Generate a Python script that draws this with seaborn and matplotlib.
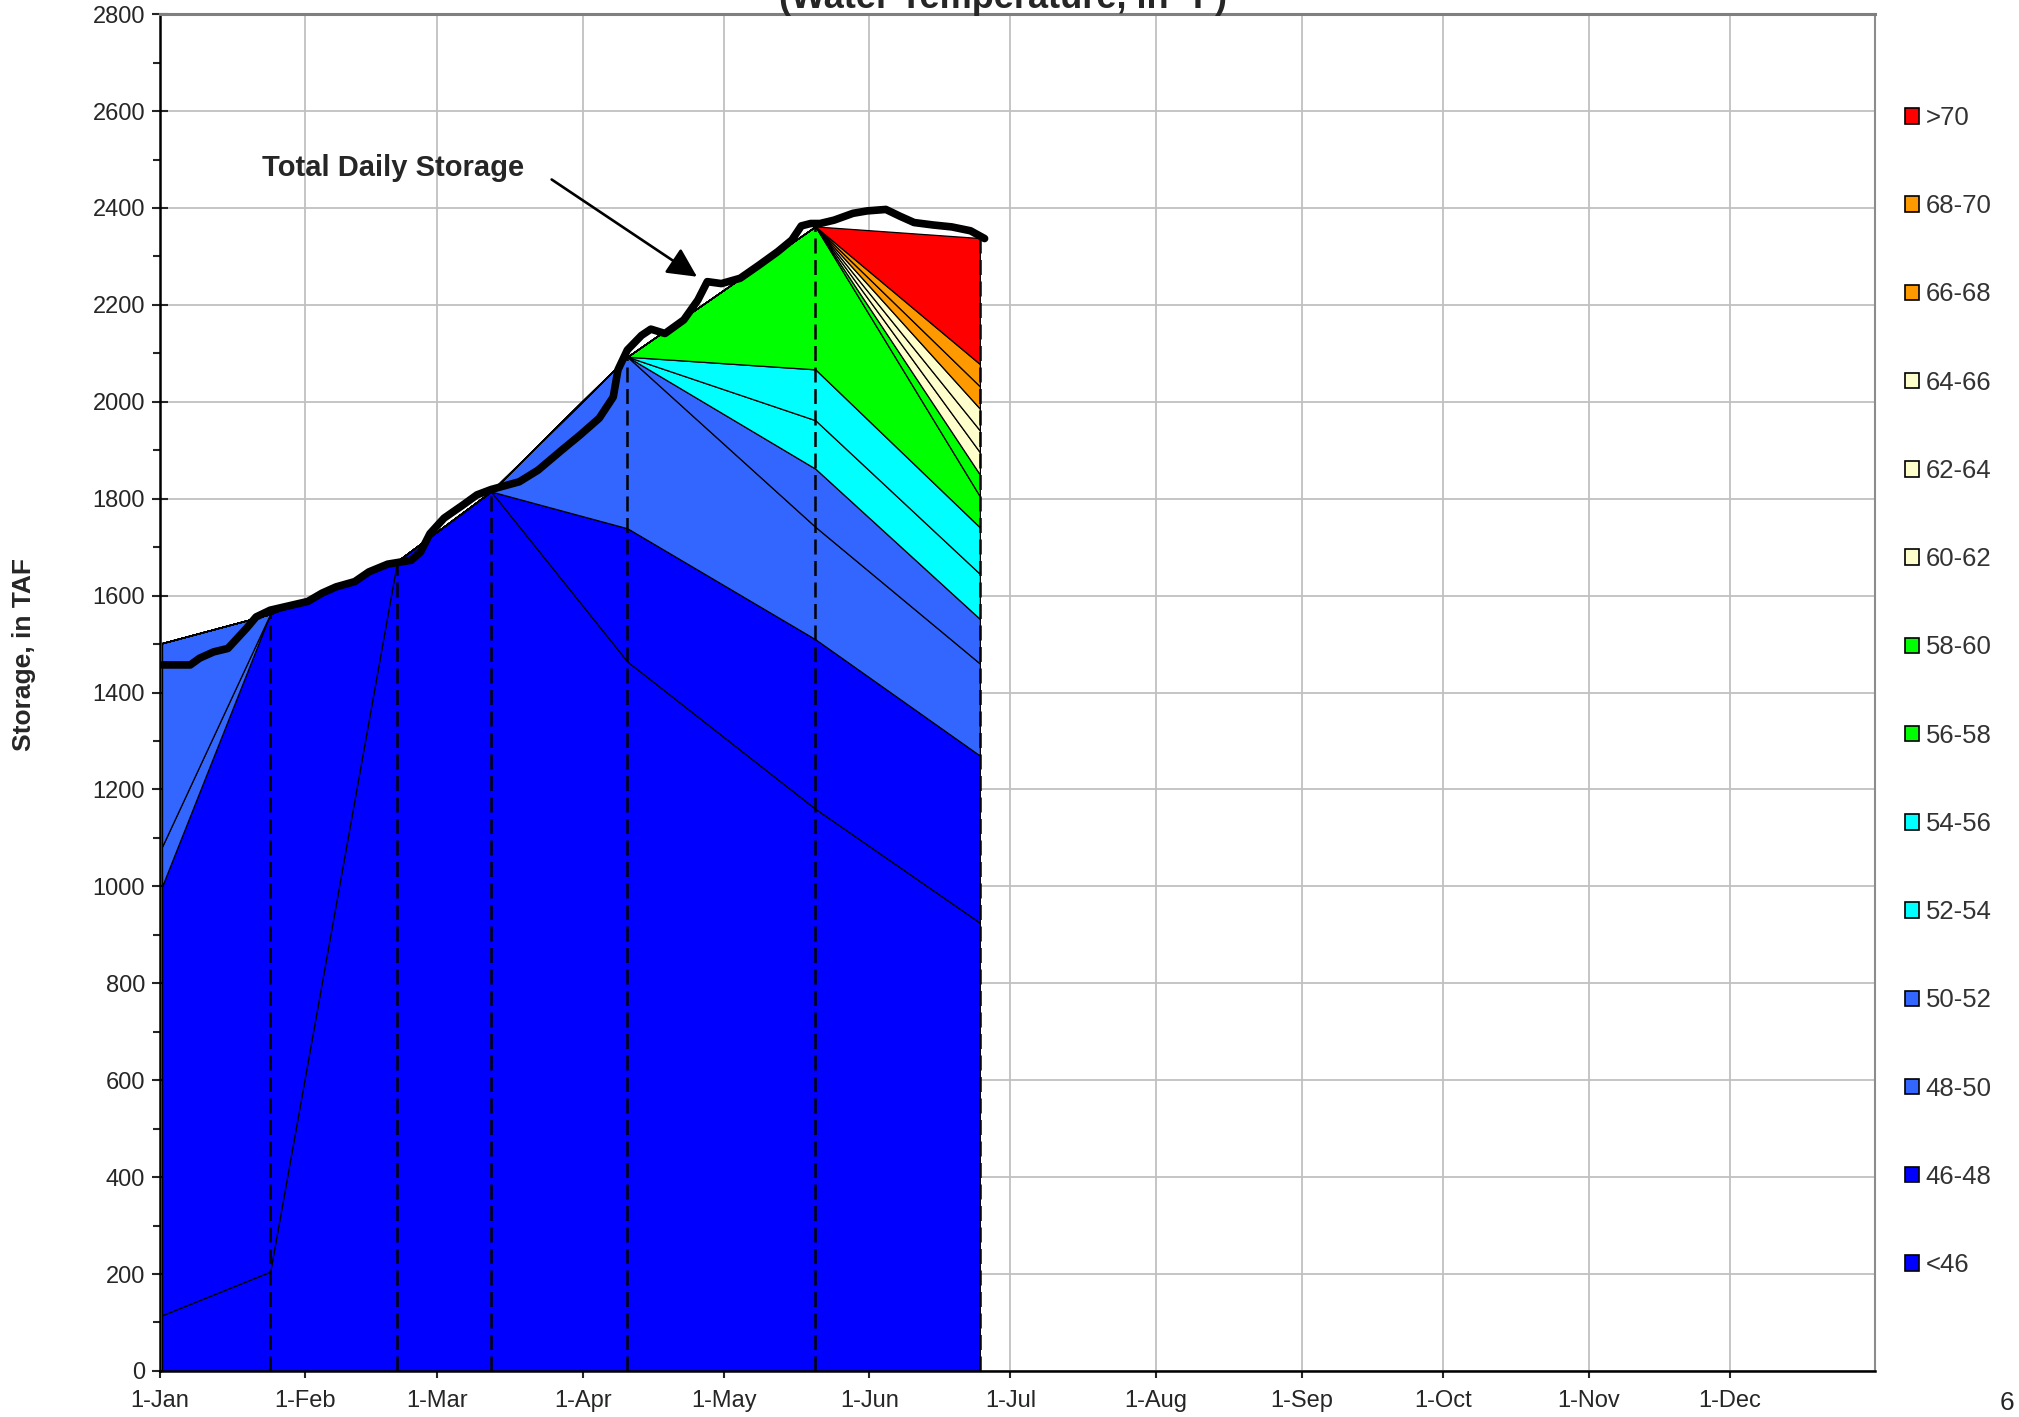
import matplotlib
matplotlib.use('Agg')
import numpy as np
import pandas as pd
import matplotlib.pyplot as plt
from matplotlib.patches import Patch
import seaborn as sns

sns.set_style('ticks')
plt.rcParams['font.family'] = ['Liberation Sans', 'DejaVu Sans']

# temperature bands, bottom to top
band_labels = ['<46', '46-48', '48-50', '50-52', '52-54', '54-56', '56-58',
               '58-60', '60-62', '62-64', '64-66', '66-68', '68-70', '>70']
band_colors = ['#0000FF', '#0000FF', '#3366FF', '#3366FF', '#00FFFF', '#00FFFF',
               '#00FF00', '#00FF00', '#FFFFCC', '#FFFFCC', '#FFFFCC',
               '#FF9900', '#FF9900', '#FF0000']

# temperature profile dates and storage (TAF) in each band
profile_dates = ['1-Jan', '24-Jan', '20-Feb', '12-Mar', '10-Apr', '20-May', '24-Jun']
band_storage = [
    [115, 205, 1671, 1815, 1464, 1160, 925],   # <46
    [885, 1357, 0, 0, 275, 350, 345],          # 46-48
    [82, 0, 0, 0, 354, 232, 190],              # 48-50
    [420, 0, 0, 0, 0, 120, 92],                # 50-52
    [0, 0, 0, 0, 0, 100, 93],                  # 52-54
    [0, 0, 0, 0, 0, 105, 96],                  # 54-56
    [0, 0, 0, 0, 0, 295, 64],                  # 56-58
    [0, 0, 0, 0, 0, 0, 45],                    # 58-60
    [0, 0, 0, 0, 0, 0, 46],                    # 60-62
    [0, 0, 0, 0, 0, 0, 45],                    # 62-64
    [0, 0, 0, 0, 0, 0, 45],                    # 64-66
    [0, 0, 0, 0, 0, 0, 46],                    # 66-68
    [0, 0, 0, 0, 0, 0, 46],                    # 68-70
    [0, 0, 0, 0, 0, 0, 260],                   # >70
]

# total daily storage (TAF)
storage_dates = ['1-Jan', '7-Jan', '9-Jan', '12-Jan', '15-Jan', '17-Jan', '19-Jan',
                 '21-Jan', '24-Jan', '28-Jan', '1-Feb', '4-Feb', '7-Feb', '11-Feb',
                 '14-Feb', '18-Feb', '23-Feb', '25-Feb', '27-Feb', '2-Mar', '6-Mar',
                 '9-Mar', '12-Mar', '18-Mar', '22-Mar', '27-Mar', '31-Mar', '4-Apr',
                 '7-Apr', '8-Apr', '10-Apr', '13-Apr', '15-Apr', '18-Apr', '22-Apr',
                 '25-Apr', '27-Apr', '30-Apr', '4-May', '8-May', '12-May', '15-May',
                 '17-May', '19-May', '21-May', '24-May', '28-May', '31-May', '4-Jun',
                 '7-Jun', '10-Jun', '14-Jun', '18-Jun', '22-Jun', '25-Jun']
storage_taf = [1457, 1457, 1471, 1484, 1491, 1512, 1533,
               1556, 1570, 1579, 1588, 1605, 1618, 1629,
               1649, 1665, 1673, 1690, 1728, 1760, 1787,
               1808, 1819, 1835, 1859, 1900, 1932, 1966,
               2010, 2066, 2107, 2137, 2150, 2141, 2169,
               2210, 2248, 2244, 2255, 2282, 2310, 2334,
               2363, 2368, 2368, 2375, 2389, 2394, 2397,
               2383, 2370, 2365, 2361, 2353, 2337]

month_labels = ['1-Jan', '1-Feb', '1-Mar', '1-Apr', '1-May', '1-Jun',
                '1-Jul', '1-Aug', '1-Sep', '1-Oct', '1-Nov', '1-Dec']


def day_index(labels):
    return pd.to_datetime(labels, format='%d-%b').dayofyear.to_numpy() - 1


# dates sit in the middle of their day slot
px = day_index(profile_dates) + 0.5
sx = day_index(storage_dates) + 0.5
month_x = day_index(month_labels)
bands = np.array(band_storage, dtype=float)
totals = bands.sum(axis=0)

fig = plt.figure(figsize=(20.19, 14.17), dpi=100)
ax = fig.add_axes([0.0791, 0.0325, 0.8497, 0.9575])
ax.set_axisbelow(True)

ax.stackplot(px, bands, colors=band_colors, edgecolor='black', linewidth=0.9)
ax.vlines(px[1:], 0, totals[1:], colors='black', linewidth=1.8,
          linestyles=(0, (6, 2.6)), zorder=3)

sns.lineplot(x=sx, y=storage_taf, color='black', linewidth=5.5, sort=False,
             estimator=None, ax=ax, zorder=5,
             solid_joinstyle='round', solid_capstyle='round')

ax.text(21.8, 2482, 'Total Daily Storage', fontsize=21, fontweight='bold',
        ha='left', va='center')
ax.annotate('', xy=(114.8, 2255), xytext=(82.9, 2462),
            arrowprops=dict(arrowstyle='-|>,head_length=0.6,head_width=0.3',
                            color='black', lw=1.9, mutation_scale=30))

ax.set_xlim(0, 365)
ax.set_ylim(0, 2800)
ax.set_xticks(month_x)
ax.set_xticklabels(month_labels)
ax.set_yticks(np.arange(0, 2801, 200))
ax.set_yticks(np.arange(100, 2800, 200), minor=True)
ax.grid(True, which='major', color='#c0c0c0', linewidth=1.3)

ax.tick_params(axis='y', which='major', direction='inout', length=11, width=1.5,
               labelsize=17, pad=5, left=True)
ax.tick_params(axis='y', which='minor', direction='out', length=5, width=1.5, left=True)
ax.tick_params(axis='x', which='major', direction='out', length=5, width=1.5,
               labelsize=17, pad=8.5, bottom=True)

for side in ['left', 'bottom']:
    ax.spines[side].set_color('black')
    ax.spines[side].set_linewidth(1.8)
ax.spines['top'].set_color('#7f7f7f')
ax.spines['top'].set_linewidth(2.2)
ax.spines['right'].set_color('#8c8c8c')
ax.spines['right'].set_linewidth(1.5)

ax.set_ylabel('Storage, in TAF', fontsize=19, fontweight='bold')
ax.yaxis.set_label_coords(-0.072, 0.528)

fig.text(0.497, 1 - 8 / 1417, '(Water Temperature, in \u00b0F)', fontsize=26,
         fontweight='bold', ha='center', va='baseline')

handles = [Patch(facecolor=c, edgecolor='black', linewidth=1.2, label=l)
           for l, c in zip(band_labels[::-1], band_colors[::-1])]
leg = fig.legend(handles=handles, loc='upper left', bbox_to_anchor=(0.9435, 1 - 106 / 1417),
                 frameon=False, fontsize=18.5, labelspacing=2.5, handlelength=0.55,
                 handleheight=0.55, handletextpad=0.25, borderpad=0, borderaxespad=0)
for t in leg.get_texts():
    t.set_color('#333333')

fig.text(2007 / 2019, 1 - 1403 / 1417, '6', fontsize=19, ha='center', va='center')

fig.savefig('out.png', dpi=100)
